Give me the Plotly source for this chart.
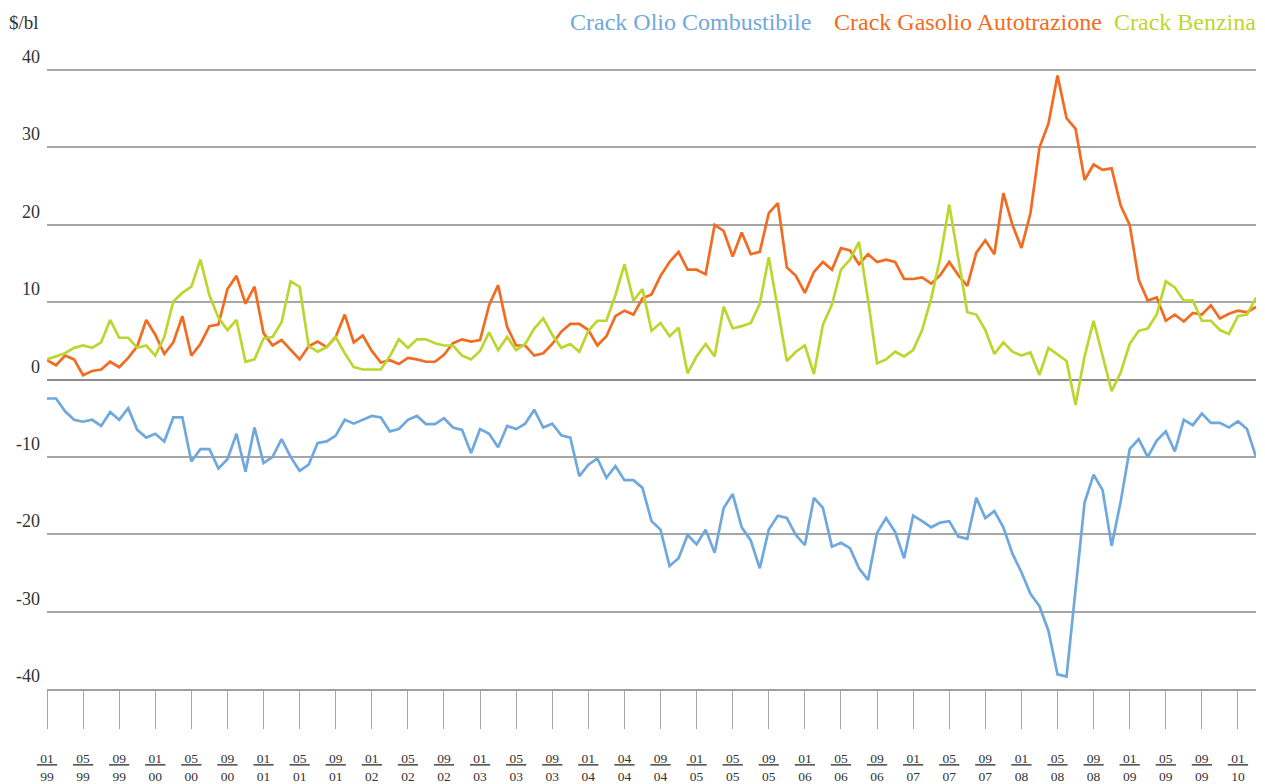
import plotly.graph_objects as go

# ---- data (monthly, Jan 1999 .. Mar 2010) ----
olio = [-2.45, -2.45, -4.1, -5.2, -5.45, -5.2, -6.0, -4.2, -5.2, -3.7,
        -6.5, -7.5, -7.0, -8.0, -4.9, -4.9, -10.6, -9.0, -9.0, -11.5,
        -10.3, -7.0, -11.9, -6.2, -10.8, -10.0, -7.7, -10.0, -11.8, -11.0,
        -8.2, -8.0, -7.25, -5.2, -5.7, -5.15, -4.7, -4.9, -6.7, -6.4,
        -5.2, -4.7, -5.75, -5.75, -5.0, -6.2, -6.5, -9.5, -6.4, -7.0,
        -8.75, -6.0, -6.4, -5.7, -3.9, -6.2, -5.7, -7.2, -7.5, -12.5,
        -11.0, -10.2, -12.7, -11.2, -13.0, -13.0, -14.0, -18.3, -19.4, -24.1,
        -23.1, -20.1, -21.3, -19.4, -22.4, -16.6, -14.8, -19.1, -20.8, -24.4,
        -19.4, -17.6, -17.9, -20.1, -21.4, -15.3, -16.6, -21.6, -21.1, -21.8,
        -24.4, -25.9, -19.8, -17.9, -19.7, -23.1, -17.6, -18.3, -19.1, -18.5,
        -18.3, -20.3, -20.6, -15.3, -17.9, -17.0, -19.1, -22.5, -24.9, -27.7,
        -29.3, -32.5, -38.1, -38.4, -27.1, -15.9, -12.3, -14.3, -21.5, -15.8,
        -9.0, -7.7, -10.0, -7.9, -6.7, -9.3, -5.2, -5.9, -4.4, -5.6,
        -5.6, -6.2, -5.4, -6.4, -10.0]

gasolio = [2.5, 1.85, 3.1, 2.6, 0.56, 1.1, 1.3, 2.3, 1.6, 2.8,
           4.3, 7.7, 5.8, 3.3, 4.8, 8.2, 3.1, 4.6, 6.9, 7.1,
           11.7, 13.4, 9.8, 12.0, 6.0, 4.4, 5.1, 3.9, 2.6, 4.3,
           4.9, 4.2, 5.5, 8.4, 4.8, 5.7, 3.7, 2.2, 2.5, 2.0,
           2.8, 2.6, 2.3, 2.3, 3.2, 4.7, 5.2, 4.9, 5.1, 9.6,
           12.2, 6.8, 4.4, 4.4, 3.1, 3.4, 4.6, 6.2, 7.2, 7.2,
           6.4, 4.4, 5.6, 8.2, 8.9, 8.4, 10.5, 11.0, 13.4, 15.2,
           16.5, 14.2, 14.2, 13.6, 20.0, 19.2, 15.9, 19.0, 16.2, 16.5,
           21.5, 22.8, 14.5, 13.4, 11.2, 13.9, 15.2, 14.2, 17.0, 16.7,
           14.9, 16.2, 15.2, 15.5, 15.2, 13.0, 13.0, 13.2, 12.4, 13.5,
           15.2, 13.5, 12.1, 16.4, 18.0, 16.2, 24.1, 20.0, 17.0, 21.5,
           30.0, 33.1, 39.3, 33.8, 32.4, 25.8, 27.8, 27.1, 27.3, 22.5,
           20.0, 12.9, 10.2, 10.6, 7.6, 8.4, 7.5, 8.6, 8.4, 9.6,
           7.9, 8.5, 8.9, 8.7, 9.4]

benzina = [2.6, 3.0, 3.4, 4.1, 4.4, 4.1, 4.8, 7.7, 5.4, 5.4,
           4.1, 4.4, 3.1, 5.5, 10.1, 11.2, 12.0, 15.5, 10.9, 8.0,
           6.4, 7.7, 2.3, 2.6, 5.3, 5.5, 7.4, 12.7, 12.0, 4.3,
           3.6, 4.2, 5.5, 3.4, 1.6, 1.3, 1.3, 1.3, 3.0, 5.2,
           4.1, 5.2, 5.2, 4.7, 4.4, 4.4, 3.1, 2.6, 3.7, 6.1,
           3.8, 5.5, 3.8, 4.6, 6.6, 7.9, 5.8, 4.1, 4.6, 3.6,
           6.3, 7.6, 7.6, 10.9, 14.9, 10.2, 11.7, 6.3, 7.3, 5.6,
           6.7, 0.8, 3.0, 4.6, 3.0, 9.4, 6.6, 6.9, 7.3, 9.8,
           15.8, 9.0, 2.4, 3.6, 4.4, 0.7, 7.1, 9.7, 14.2, 15.5,
           17.8, 10.3, 2.1, 2.6, 3.6, 3.0, 3.8, 6.4, 10.5, 15.7,
           22.6, 15.7, 8.7, 8.4, 6.4, 3.3, 4.8, 3.6, 3.1, 3.5,
           0.6, 4.1, 3.2, 2.4, -3.3, 3.0, 7.6, 3.0, -1.5, 0.9,
           4.6, 6.3, 6.6, 8.4, 12.7, 11.9, 10.2, 10.2, 7.6, 7.6,
           6.4, 5.9, 8.2, 8.4, 10.6]

series_names = ["Crack Olio Combustibile", "Crack Gasolio Autotrazione", "Crack Benzina"]
series_colors = ["#6FA8DC", "#F26B21", "#BDD62F"]

tick_labels = ["01/99", "05/99", "09/99", "01/00", "05/00", "09/00", "01/01", "05/01",
               "09/01", "01/02", "05/02", "09/02", "01/03", "05/03", "09/03", "01/04",
               "04/04", "09/04", "01/05", "05/05", "09/05", "01/06", "05/06", "09/06",
               "01/07", "05/07", "09/07", "01/08", "05/08", "09/08", "01/09", "05/09",
               "09/09", "01/10"]
tick_step = 4  # months between labels

y_ticks = [-40, -30, -20, -10, 0, 10, 20, 30, 40]
unit_label = "$/bl"

FONT = "Liberation Serif"

months = list(range(len(olio)))
fig = go.Figure()
for name, vals, col in zip(series_names, [olio, gasolio, benzina], series_colors):
    fig.add_trace(go.Scatter(x=months, y=vals, mode="lines", name=name,
                             line=dict(color=col, width=2.7), showlegend=False))

tickvals = [i * tick_step for i in range(len(tick_labels))]
ticktext = []
for lab in tick_labels:
    top, bot = lab.split("/")
    ticktext.append("<u>&nbsp;" + top + "&nbsp;</u><br>" + bot)

fig.update_xaxes(range=[0, len(olio) - 1], tickmode="array", tickvals=tickvals,
                 ticktext=ticktext, ticks="outside", ticklen=38, tickwidth=1.3,
                 tickcolor="#A6A6A6", showgrid=False, zeroline=False,
                 showline=True, linecolor="#A0A0A0", linewidth=2,
                 tickfont=dict(family=FONT, size=13.5, color="#333333"),
                 ticklabelstandoff=18, automargin=False)
fig.update_yaxes(range=[-40, 40.4], tickmode="array", tickvals=y_ticks,
                 showticklabels=False, showgrid=True, gridcolor="#A6A6A6",
                 gridwidth=1.5, zeroline=True, zerolinecolor="#8C8C8C",
                 zerolinewidth=2.2, automargin=False)

for v in y_ticks:
    fig.add_annotation(x=0, xref="paper", y=v, yref="y", text=str(v),
                       showarrow=False, xanchor="right", yanchor="middle",
                       xshift=-5, yshift=13,
                       font=dict(family=FONT, size=18, color="#333333"))

fig.add_annotation(x=0, xref="paper", y=1, yref="paper", text=unit_label,
                   showarrow=False, xanchor="right", yanchor="middle",
                   xshift=-6, yshift=45, font=dict(family=FONT, size=19, color="#333333"))

# legend as coloured text (no symbols), right-aligned at the top
legend_right_shift = [-443, -152, 2]
for name, col, xs in zip(series_names, series_colors, legend_right_shift):
    fig.add_annotation(x=1, xref="paper", y=1, yref="paper", text=name,
                       showarrow=False, xanchor="right", yanchor="middle",
                       xshift=xs, yshift=45, font=dict(family=FONT, size=24, color=col))

# the page adds an 8px body margin, so the figure is offset by 8px
fig.update_layout(width=1257, height=776,
                  margin=dict(l=39, r=9, t=59, b=95, autoexpand=False),
                  plot_bgcolor="white", paper_bgcolor="white", showlegend=False)

fig.write_html("out.html")
